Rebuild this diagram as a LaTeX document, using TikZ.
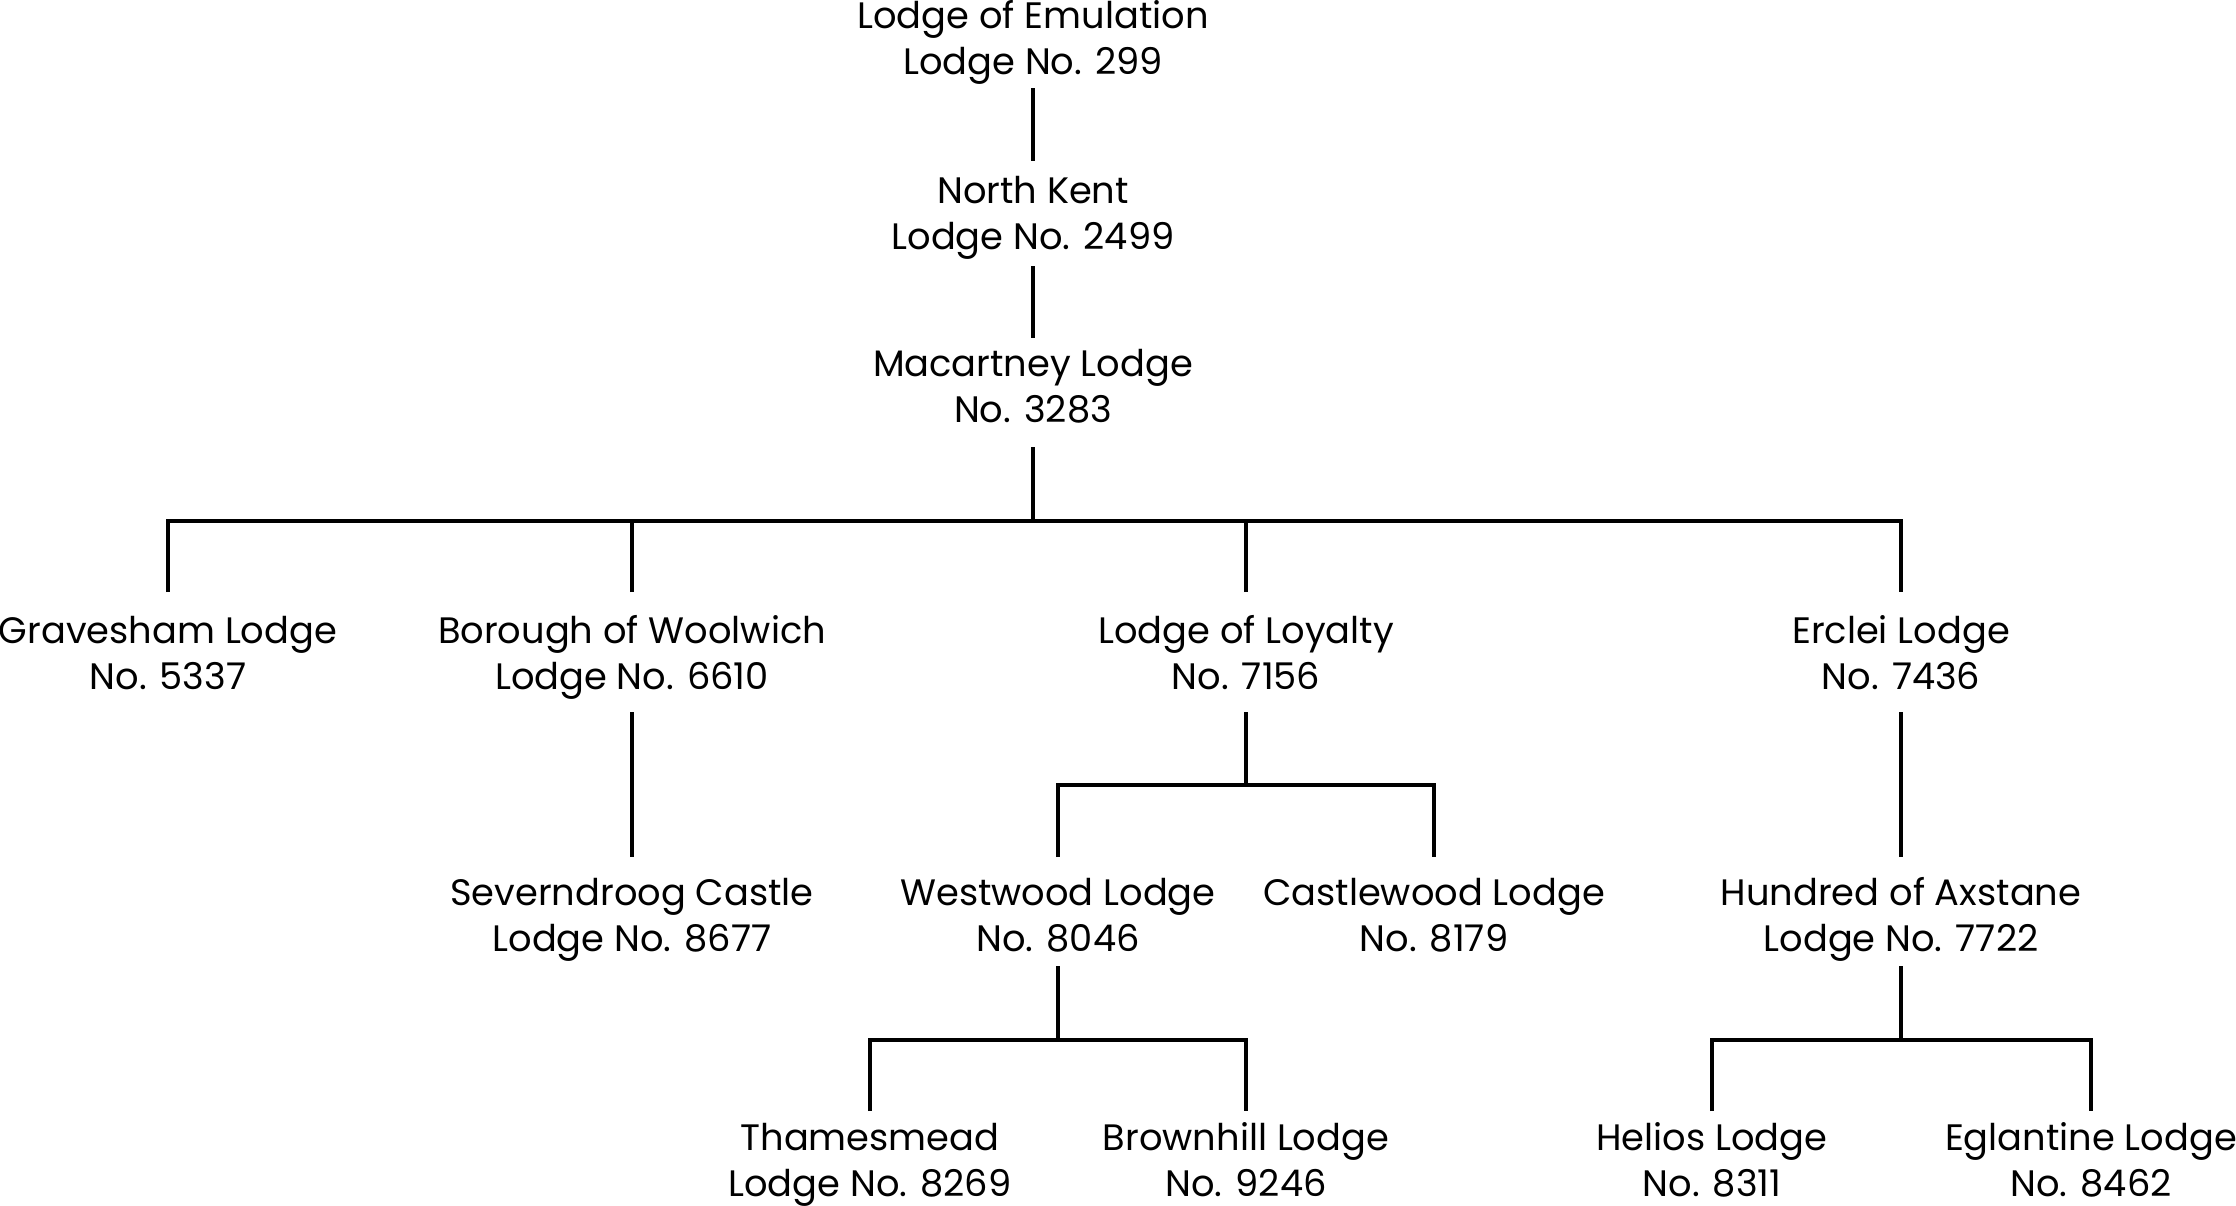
\documentclass[tikz,border=0pt]{standalone}
\usepackage{fontspec}
\setmainfont{Poppins}
\newcommand\twoline[2]{\vtop{\baselineskip=23.25pt\halign{\hfil##\hfil\cr #1\cr #2\cr}}}
\begin{document}
\begin{tikzpicture}[x=0.5pt,y=-0.5pt,
  lodge/.style 2 args={inner sep=0pt, outer sep=0pt, anchor=base,
    text height=#1, text depth=#2, font=\fontsize{18.4}{23.25}\selectfont},
  link/.style={line width=1.6pt, line join=miter}]
\useasboundingbox (0,0) rectangle (2236,1205);
% level 0-2
\node[lodge={20pt}{30pt}]     (emul) at (1033,28)  {\twoline{Lodge of Emulation}{Lodge No. 299}};
\node[lodge={21pt}{31.5pt}]   (nk)   at (1033,203) {\twoline{North Kent}{Lodge No. 2499}};
\node[lodge={19pt}{35.5pt}]   (mac)  at (1033,376) {\twoline{Macartney Lodge}{No. 3283}};
% level 3
\node[lodge={25.5pt}{34.5pt}] (grav) at (168,643)  {\twoline{Gravesham Lodge}{No. 5337}};
\node[lodge={25.5pt}{34.5pt}] (bor)  at (632,643)  {\twoline{Borough of Woolwich}{Lodge No. 6610}};
\node[lodge={25.5pt}{34.5pt}] (loy)  at (1246,643) {\twoline{Lodge of Loyalty}{No. 7156}};
\node[lodge={25.5pt}{34.5pt}] (erc)  at (1901,643) {\twoline{Erclei Lodge}{No. 7436}};
% level 4
\node[lodge={24pt}{30.5pt}]   (sev)  at (632,905)  {\twoline{Severndroog Castle}{Lodge No. 8677}};
\node[lodge={24pt}{30.5pt}]   (west) at (1058,905) {\twoline{Westwood Lodge}{No. 8046}};
\node[lodge={24pt}{30.5pt}]   (cast) at (1434,905) {\twoline{Castlewood Lodge}{No. 8179}};
\node[lodge={24pt}{30.5pt}]   (hund) at (1901,905) {\twoline{Hundred of Axstane}{Lodge No. 7722}};
% level 5
\node[lodge={19.5pt}{30pt}]   (tham) at (870,1150)  {\twoline{Thamesmead}{Lodge No. 8269}};
\node[lodge={19.5pt}{30pt}]   (brow) at (1246,1150) {\twoline{Brownhill Lodge}{No. 9246}};
\node[lodge={19.5pt}{30pt}]   (heli) at (1712,1150) {\twoline{Helios Lodge}{No. 8311}};
\node[lodge={19.5pt}{30pt}]   (egla) at (2091,1150) {\twoline{Eglantine Lodge}{No. 8462}};
% connectors
\draw[link] (emul.south) -- (nk.north);
\draw[link] (nk.south) -- (mac.north);
\draw[link] (mac.south) -- ++(0,74) coordinate (j1);
\draw[link] (grav.north) |- (j1) -| (erc.north);
\draw[link] (bor.north) -- (bor.north |- j1);
\draw[link] (loy.north) -- (loy.north |- j1);
\draw[link] (bor.south) -- (sev.north);
\draw[link] (erc.south) -- (hund.north);
\draw[link] (loy.south) -- ++(0,73) coordinate (j2);
\draw[link] (west.north) |- (j2) -| (cast.north);
\draw[link] (west.south) -- ++(0,74) coordinate (j3);
\draw[link] (tham.north) |- (j3) -| (brow.north);
\draw[link] (hund.south) -- ++(0,74) coordinate (j4);
\draw[link] (heli.north) |- (j4) -| (egla.north);
\end{tikzpicture}
\end{document}
